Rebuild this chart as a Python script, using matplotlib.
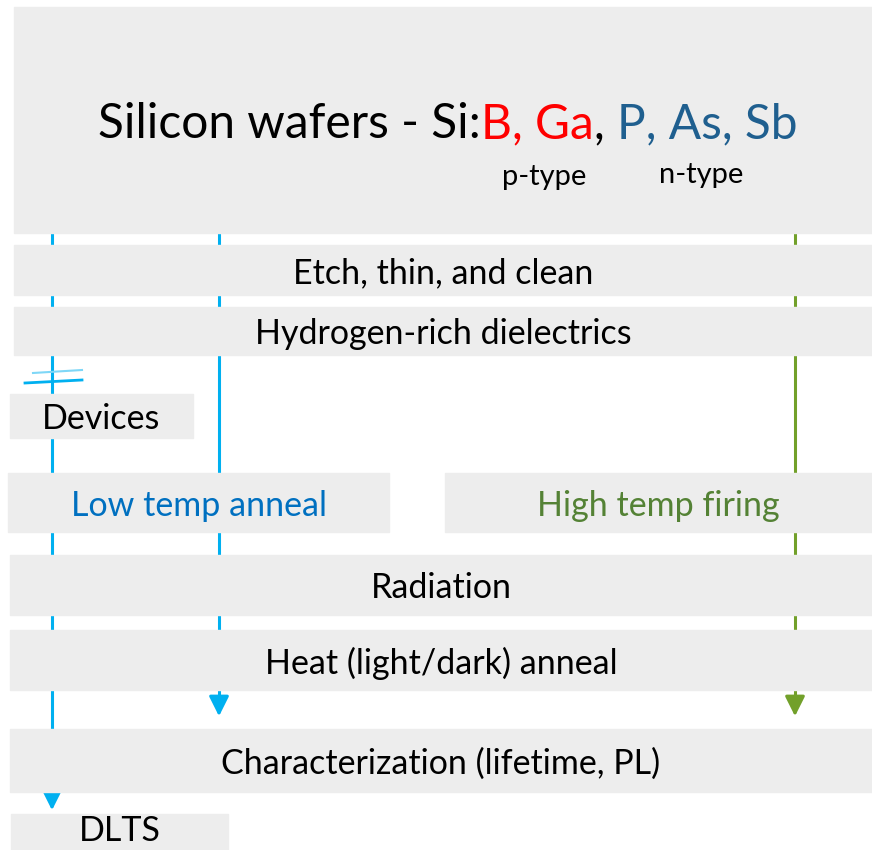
import matplotlib.pyplot as plt
from matplotlib.patches import Rectangle

plt.rcParams['font.family'] = ['Lato', 'DejaVu Sans']

GRAY = '#EDEDED'
BLUE_LINE = '#00B0F0'
GREEN_LINE = '#72A02A'
BLUE_TXT = '#0070C0'
GREEN_TXT = '#548235'
RED = '#FF0000'
DARK_BLUE = '#1F5F8F'

# process steps: (label, x0, y0, x1, y1, colour)
steps = [
    ('Etch, thin, and clean', 14, 245, 872, 295, 'black'),
    ('Hydrogen-rich dielectrics', 14, 307, 872, 355, 'black'),
    ('Devices', 10, 394, 193, 438, 'black'),
    ('Low temp anneal', 8, 473, 389, 532, BLUE_TXT),
    ('High temp firing', 445, 473, 872, 532, GREEN_TXT),
    ('Radiation', 10, 555, 872, 615, 'black'),
    ('Heat (light/dark) anneal', 10, 630, 872, 690, 'black'),
    ('Characterization (lifetime, PL)', 10, 729, 872, 792, 'black'),
    ('DLTS', 11, 814, 228, 852, 'black'),
]
# flow paths: (x, y_start, y_end, colour)
paths = [
    (52, 233, 813, BLUE_LINE),
    (219, 233, 719, BLUE_LINE),
    (795, 233, 719, GREEN_LINE),
]
title_parts = [('Silicon wafers - Si:', 'black'), ('B, Ga', RED),
               (', ', 'black'), ('P, As, Sb', DARK_BLUE)]

fig = plt.figure(figsize=(8.72, 8.5), dpi=100)
ax = fig.add_axes([0, 0, 1, 1])
ax.set_xlim(0, 872)
ax.set_ylim(850, 0)
ax.axis('off')

# lines behind boxes
for x, y0, y1, c in paths:
    ax.plot([x, x], [y0, y1 - 14], color=c, lw=2.2, zorder=1)
    ax.annotate('', xy=(x, y1), xytext=(x, y1 - 16),
                arrowprops=dict(arrowstyle='-|>', color=c, lw=2.2,
                                mutation_scale=30), zorder=1)

# break mark on left path
ax.plot([25, 82], [383, 380], color=BLUE_LINE, lw=2, zorder=3)
ax.plot([33, 82], [373, 370], color='#7FD7F7', lw=1.5, zorder=3)

ax.add_patch(Rectangle((14, 7), 858, 226, color=GRAY, zorder=2))
for label, x0, y0, x1, y1, c in steps:
    ax.add_patch(Rectangle((x0, y0), x1 - x0, y1 - y0, color=GRAY, zorder=2))
    ty = (y0 + y1) / 2 + 3
    if label == 'DLTS':
        ty = 831  # keep it inside the bottom edge
    ax.text((x0 + x1) / 2, ty, label, ha='center', va='center',
            fontsize=24.5, color=c, zorder=4)

# multi-coloured title
fig.canvas.draw()
r = fig.canvas.get_renderer()
x = 98
for s, c in title_parts:
    t = ax.text(x, 138, s, ha='left', va='baseline', fontsize=34.5, color=c, zorder=4)
    bb = t.get_window_extent(r)
    x += bb.width
ax.text(544, 177, 'p-type', ha='center', va='center', fontsize=21, zorder=4)
ax.text(701, 175, 'n-type', ha='center', va='center', fontsize=21, zorder=4)

fig.savefig('out.png', dpi=100)
